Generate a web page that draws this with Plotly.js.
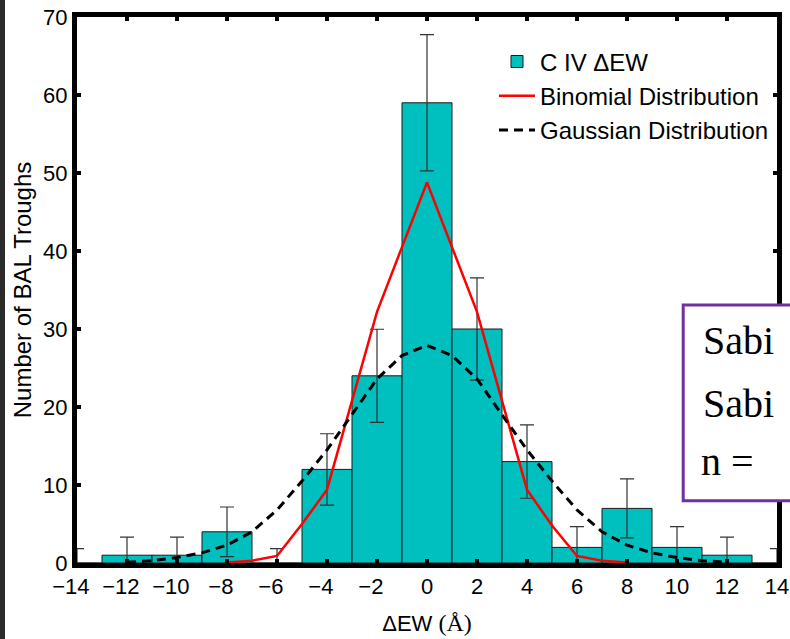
<!DOCTYPE html>
<html>
<head>
<meta charset="utf-8">
<script src="https://cdn.plot.ly/plotly-3.0.1.min.js"></script>
<style>
  html, body { margin: 0; padding: 0; background: #ffffff; }
  #wrap { position: relative; width: 790px; height: 639px; overflow: hidden; }
  #chart { position: absolute; left: 0; top: 0; width: 790px; height: 639px; }
  #edge { position: absolute; left: 0; top: 0; width: 5px; height: 639px; background: #2b2b2b; }
</style>
</head>
<body>
<div id="wrap">
  <div id="chart"></div>
  <div id="edge"></div>
</div>
<script>
// Histogram of C IV ΔEW (bin centres, Å) and counts
const binCenters = [-14, -12, -10, -8, -6, -4, -2, 0, 2, 4, 6, 8, 10, 12, 14];
const counts     = [0, 1, 1, 4, 0, 12, 24, 59, 30, 13, 2, 7, 2, 1, 0];
const countErr   = [1.84, 2.32, 2.32, 3.18, 1.84, 4.57, 5.97, 8.73, 6.55, 4.70, 2.66, 3.78, 2.66, 2.32, 1.84];

// Binomial distribution curve
const binomX = [-8, -7, -6, -5, -4, -2, 0, 2, 4, 5, 6, 7, 8];
const binomY = [0.05, 0.3, 0.9, 5.0, 9.4, 32.2, 48.8, 32.2, 9.4, 4.8, 0.9, 0.3, 0.05];

// Gaussian distribution curve
const gaussX = [-12, -11, -10, -9, -8, -7, -6, -5, -4, -3, -2, -1, 0, 1, 2, 3, 4, 5, 6, 7, 8, 9, 10, 11, 12];
const gaussY = [0.1, 0.3, 0.7, 1.3, 2.3, 4.0, 6.8, 10.5, 14.5, 19.0, 23.6, 26.6, 27.9, 26.6, 23.6, 19.0, 14.5, 10.5, 6.8, 4.0, 2.3, 1.3, 0.7, 0.3, 0.1];

const xTicks = [-14, -12, -10, -8, -6, -4, -2, 0, 2, 4, 6, 8, 10, 12, 14];
const xTickText = ['\u221214\u2007', '\u221212\u2007', '\u221210\u2007', '\u22128\u2007', '\u22126\u2007', '\u22124\u2007', '\u22122\u2007',
                   '0', '2', '4', '6', '8', '10', '12', '14'];
const yTicks = [0, 10, 20, 30, 40, 50, 60, 70];

const legendNames = ['C IV \u0394EW', 'Binomial Distribution', 'Gaussian Distribution'];
const boxLines = ['Sabi', 'Sabi', 'n ='];

const sans = 'Arial, "Liberation Sans", Helvetica, sans-serif';
const serif = '"Liberation Serif", "Times New Roman", serif';

const traces = [
  {
    type: 'bar',
    x: binCenters,
    y: counts,
    width: 2,
    name: legendNames[0],
    marker: { color: '#00bfbf', line: { color: '#1a1a1a', width: 1 } },
    error_y: { type: 'data', array: countErr, symmetric: true, color: '#333333', thickness: 1.2, width: 7 }
  },
  {
    type: 'scatter',
    mode: 'lines',
    x: binomX,
    y: binomY,
    name: legendNames[1],
    line: { color: '#ff0000', width: 2.5 }
  },
  {
    type: 'scatter',
    mode: 'lines',
    x: gaussX,
    y: gaussY,
    name: legendNames[2],
    line: { color: '#000000', width: 3, dash: '9px,6px' }
  }
];

const layout = {
  width: 790,
  height: 639,
  margin: { l: 77, r: 13, t: 17, b: 76 },
  paper_bgcolor: '#ffffff',
  plot_bgcolor: '#ffffff',
  font: { family: sans, color: '#000000' },
  bargap: 0,
  showlegend: true,
  legend: {
    x: 0.5957, y: 0.959, xanchor: 'left', yanchor: 'top',
    bgcolor: 'rgba(0,0,0,0)', borderwidth: 0,
    font: { family: sans, size: 24, color: '#000000' },
    itemwidth: 36,
    tracegroupgap: 0
  },
  xaxis: {
    range: [-14, 14],
    tickvals: xTicks,
    ticktext: xTickText,
    tickangle: 0,
    ticks: 'inside', ticklen: 4, tickwidth: 4, tickcolor: '#000000',
    showline: true, linewidth: 5, linecolor: '#000000', mirror: 'ticks',
    showgrid: false, zeroline: false,
    tickfont: { family: sans, size: 22, color: '#000000' },
    title: { text: '\u2007\u2009\u0394EW <span style="font-family:\'Liberation Serif\', serif; font-size:24px">(\u00c5)</span>', font: { family: sans, size: 22, color: '#000000' }, standoff: 19 }
  },
  yaxis: {
    range: [0, 70],
    tickvals: yTicks,
    ticks: 'inside', ticklen: 4, tickwidth: 4, tickcolor: '#000000',
    showline: true, linewidth: 5, linecolor: '#000000', mirror: 'ticks',
    showgrid: false, zeroline: false,
    tickfont: { family: sans, size: 22, color: '#000000' },
    title: { text: 'Number of BAL Troughs', font: { family: sans, size: 24, color: '#000000' }, standoff: 6 }
  },
  shapes: [
    { type: 'rect', xref: 'paper', yref: 'paper', x0: 0.866, x1: 1.06, y0: 0.114, y1: 0.4725,
      line: { color: '#7030a0', width: 3 }, fillcolor: '#ffffff', layer: 'above' }
  ],
  annotations: [
    { xref: 'paper', yref: 'paper', x: 0.892, y: 0.4066, xanchor: 'left', yanchor: 'middle', showarrow: false,
      text: boxLines[0], font: { family: serif, size: 40, color: '#000000' } },
    { xref: 'paper', yref: 'paper', x: 0.892, y: 0.293, xanchor: 'left', yanchor: 'middle', showarrow: false,
      text: boxLines[1], font: { family: serif, size: 40, color: '#000000' } },
    { xref: 'paper', yref: 'paper', x: 0.889, y: 0.1868, xanchor: 'left', yanchor: 'middle', showarrow: false,
      text: boxLines[2], font: { family: serif, size: 40, color: '#000000' } }
  ]
};

Plotly.newPlot('chart', traces, layout, { displayModeBar: false, staticPlot: true });
</script>
</body>
</html>
